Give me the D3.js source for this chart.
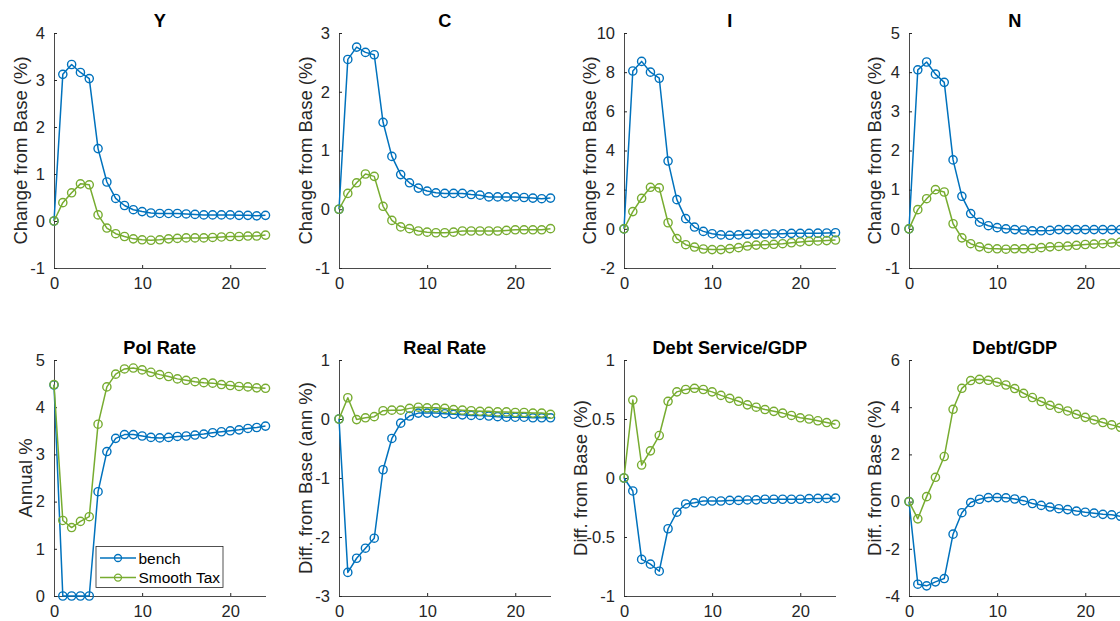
<!DOCTYPE html>
<html><head><meta charset="utf-8">
<script src="https://cdn.jsdelivr.net/npm/d3@7"></script>
<style>
html,body{margin:0;padding:0;background:#fff;overflow:hidden;}
svg{display:block;font-family:"Liberation Sans",Arial,Helvetica,sans-serif;}
</style></head>
<body><svg id="chart" width="1120" height="621"></svg>
<script>
// ---------- data ----------
const quarters = d3.range(0, 25);
const titles = ["Y", "C", "I", "N", "Pol Rate", "Real Rate", "Debt Service/GDP", "Debt/GDP"];
const yLabels = ["Change from Base (%)", "Change from Base (%)", "Change from Base (%)", "Change from Base (%)",
  "Annual %", "Diff. from Base (ann %)", "Diff. from Base (%)", "Diff. from Base (%)"];
const seriesNames = ["bench", "Smooth Tax"];
const xTicks = [0, 10, 20];
const yDomains = [[-1, 4], [-1, 3], [-2, 10], [-1, 5], [0, 5], [-3, 1], [-1, 1], [-4, 6]];
const yTicks = [
  [-1, 0, 1, 2, 3, 4], [-1, 0, 1, 2, 3], [-2, 0, 2, 4, 6, 8, 10], [-1, 0, 1, 2, 3, 4, 5],
  [0, 1, 2, 3, 4, 5], [-3, -2, -1, 0, 1], [-1, -0.5, 0, 0.5, 1], [-4, -2, 0, 2, 4, 6]];

const Y_bench = [0, 3.12, 3.33, 3.16, 3.03, 1.54, 0.83, 0.48, 0.33, 0.24, 0.20, 0.17, 0.16, 0.16, 0.16, 0.15, 0.14, 0.13, 0.13, 0.13, 0.13, 0.12, 0.12, 0.11, 0.12];
const Y_smooth = [0, 0.39, 0.60, 0.79, 0.77, 0.13, -0.15, -0.27, -0.33, -0.38, -0.40, -0.41, -0.40, -0.38, -0.37, -0.36, -0.36, -0.36, -0.35, -0.34, -0.33, -0.33, -0.32, -0.32, -0.30];
const C_bench = [0, 2.55, 2.76, 2.67, 2.63, 1.48, 0.90, 0.59, 0.45, 0.36, 0.31, 0.28, 0.27, 0.27, 0.27, 0.25, 0.24, 0.21, 0.21, 0.21, 0.21, 0.20, 0.19, 0.18, 0.19];
const C_smooth = [0, 0.27, 0.45, 0.60, 0.56, 0.05, -0.19, -0.30, -0.33, -0.37, -0.39, -0.40, -0.40, -0.39, -0.37, -0.37, -0.37, -0.37, -0.37, -0.36, -0.35, -0.35, -0.35, -0.35, -0.33];
const I_bench = [0, 8.06, 8.55, 8.00, 7.69, 3.46, 1.49, 0.52, 0.09, -0.13, -0.25, -0.31, -0.33, -0.31, -0.28, -0.27, -0.26, -0.26, -0.25, -0.23, -0.23, -0.23, -0.22, -0.21, -0.20];
const I_smooth = [0, 0.88, 1.56, 2.12, 2.09, 0.31, -0.50, -0.81, -0.93, -1.03, -1.06, -1.06, -1.01, -0.96, -0.88, -0.83, -0.81, -0.79, -0.76, -0.71, -0.67, -0.64, -0.62, -0.60, -0.57];
const N_bench = [0, 4.06, 4.26, 3.95, 3.74, 1.76, 0.83, 0.39, 0.17, 0.08, 0.03, 0.00, -0.02, -0.03, -0.05, -0.05, -0.04, -0.02, -0.02, -0.02, -0.02, -0.02, -0.02, -0.02, -0.02];
const N_smooth = [0, 0.49, 0.77, 1.00, 0.94, 0.13, -0.23, -0.38, -0.46, -0.50, -0.51, -0.52, -0.51, -0.51, -0.50, -0.48, -0.46, -0.45, -0.44, -0.42, -0.40, -0.39, -0.38, -0.36, -0.34];
const Pol_bench = [4.47, 0, 0, 0, 0, 2.21, 3.06, 3.34, 3.42, 3.42, 3.39, 3.36, 3.35, 3.36, 3.38, 3.39, 3.41, 3.43, 3.46, 3.48, 3.50, 3.52, 3.55, 3.57, 3.60];
const Pol_smooth = [4.48, 1.60, 1.45, 1.58, 1.68, 3.64, 4.43, 4.70, 4.81, 4.83, 4.79, 4.74, 4.69, 4.65, 4.60, 4.57, 4.54, 4.52, 4.51, 4.48, 4.46, 4.44, 4.43, 4.41, 4.40];
const RR_bench = [0, -2.60, -2.36, -2.19, -2.02, -0.86, -0.33, -0.07, 0.05, 0.10, 0.10, 0.10, 0.09, 0.08, 0.07, 0.06, 0.06, 0.05, 0.04, 0.03, 0.03, 0.03, 0.02, 0.02, 0.02];
const RR_smooth = [0, 0.36, -0.01, 0.02, 0.04, 0.14, 0.15, 0.15, 0.18, 0.20, 0.19, 0.19, 0.18, 0.16, 0.15, 0.14, 0.13, 0.13, 0.12, 0.12, 0.11, 0.11, 0.10, 0.10, 0.08];
const DS_bench = [0, -0.11, -0.69, -0.73, -0.79, -0.43, -0.29, -0.22, -0.21, -0.195, -0.195, -0.195, -0.19, -0.19, -0.186, -0.185, -0.18, -0.18, -0.18, -0.18, -0.18, -0.175, -0.173, -0.173, -0.17];
const DS_smooth = [0, 0.66, 0.11, 0.23, 0.36, 0.65, 0.73, 0.75, 0.76, 0.75, 0.73, 0.70, 0.675, 0.65, 0.62, 0.60, 0.58, 0.565, 0.55, 0.53, 0.51, 0.50, 0.485, 0.47, 0.455];
const D_bench = [0, -3.50, -3.57, -3.40, -3.26, -1.38, -0.47, -0.04, 0.10, 0.17, 0.17, 0.16, 0.11, 0.04, -0.08, -0.16, -0.23, -0.30, -0.34, -0.40, -0.45, -0.49, -0.54, -0.56, -0.62];
const D_smooth = [0, -0.73, 0.21, 1.03, 1.91, 3.91, 4.80, 5.13, 5.18, 5.14, 5.06, 4.94, 4.79, 4.59, 4.41, 4.24, 4.08, 3.95, 3.84, 3.70, 3.57, 3.46, 3.35, 3.25, 3.15];

const benchSeries = [Y_bench, C_bench, I_bench, N_bench, Pol_bench, RR_bench, DS_bench, D_bench];
const smoothSeries = [Y_smooth, C_smooth, I_smooth, N_smooth, Pol_smooth, RR_smooth, DS_smooth, D_smooth];

// ---------- layout / style ----------
const colors = ["#0072BD", "#77AC30"];
const colX = [54, 339, 624, 909];
const plotW = 211.5;
const rows = [[33, 268], [360, 596]];
const yLabelOffset = [33.5, 33.7, 35, 34.7, 29, 33.7, 44, 34.7];
const axisColor = "#262626";
const markerR = 4.1;

const svg = d3.select("#chart");

titles.forEach((title, i) => {
  const col = i % 4, row = Math.floor(i / 4);
  const x0 = colX[col], [top, bottom] = rows[row];
  const x = d3.scaleLinear().domain([0, 24]).range([x0, x0 + plotW]);
  const y = d3.scaleLinear().domain(yDomains[i]).range([bottom, top]);
  const g = svg.append("g");

  // x axis
  const xAx = g.append("g").attr("transform", `translate(0,${bottom})`)
    .call(d3.axisBottom(x).tickValues(xTicks).tickSizeInner(-3).tickSizeOuter(0).tickPadding(9.5).tickFormat(d3.format("d")));
  xAx.select(".domain").attr("stroke", "#4a4a4a").attr("stroke-width", 1);
  xAx.selectAll(".tick line").attr("stroke", axisColor);
  xAx.selectAll(".tick text").attr("fill", axisColor).attr("font-size", 16.5).attr("dy", "0.71em");

  // y axis
  const yAx = g.append("g").attr("transform", `translate(${x0},0)`)
    .call(d3.axisLeft(y).tickValues(yTicks[i]).tickSizeInner(-3).tickSizeOuter(0).tickPadding(9)
      .tickFormat(d => String(d)));
  yAx.select(".domain").attr("stroke", "#4a4a4a").attr("stroke-width", 1);
  yAx.selectAll(".tick line").attr("stroke", axisColor);
  yAx.selectAll(".tick text").attr("fill", axisColor).attr("font-size", 16.5);

  // title
  g.append("text").attr("x", x0 + plotW / 2).attr("y", top - 6)
    .attr("text-anchor", "middle").attr("font-weight", "bold").attr("font-size", 18.2)
    .attr("fill", "#000").text(title);

  // y label
  const lx = x0 - yLabelOffset[i], ly = (top + bottom) / 2;
  g.append("text").attr("transform", `translate(${lx},${ly}) rotate(-90)`)
    .attr("text-anchor", "middle").attr("dominant-baseline", "central")
    .attr("font-size", 18.5).attr("fill", axisColor).text(yLabels[i]);

  // series
  [benchSeries[i], smoothSeries[i]].forEach((vals, s) => {
    const pts = quarters.map((q, k) => [q, vals[k]]);
    const line = d3.line().x(d => x(d[0])).y(d => y(d[1]));
    g.append("path").attr("d", line(pts)).attr("fill", "none")
      .attr("stroke", colors[s]).attr("stroke-width", 1.5).attr("stroke-linejoin", "round");
    g.append("g").selectAll("circle").data(pts).join("circle")
      .attr("cx", d => x(d[0])).attr("cy", d => y(d[1])).attr("r", markerR)
      .attr("fill", "none").attr("stroke", colors[s]).attr("stroke-width", 1.4);
  });

  // legend in Pol Rate panel
  if (i === 4) {
    const lg = svg.append("g");
    lg.append("rect").attr("x", 96).attr("y", 546.5).attr("width", 127).attr("height", 41)
      .attr("fill", "#fff").attr("stroke", axisColor).attr("stroke-width", 0.8);
    seriesNames.forEach((name, s) => {
      const yy = 558 + s * 19.6;
      lg.append("line").attr("x1", 100).attr("x2", 136).attr("y1", yy).attr("y2", yy)
        .attr("stroke", colors[s]).attr("stroke-width", 1.5);
      lg.append("circle").attr("cx", 118).attr("cy", yy).attr("r", 3.5)
        .attr("fill", "none").attr("stroke", colors[s]).attr("stroke-width", 1.3);
      lg.append("text").attr("x", 138.5).attr("y", yy).attr("dominant-baseline", "central")
        .attr("font-size", 15.5).attr("fill", "#000").text(name);
    });
  }
});
</script></body></html>
